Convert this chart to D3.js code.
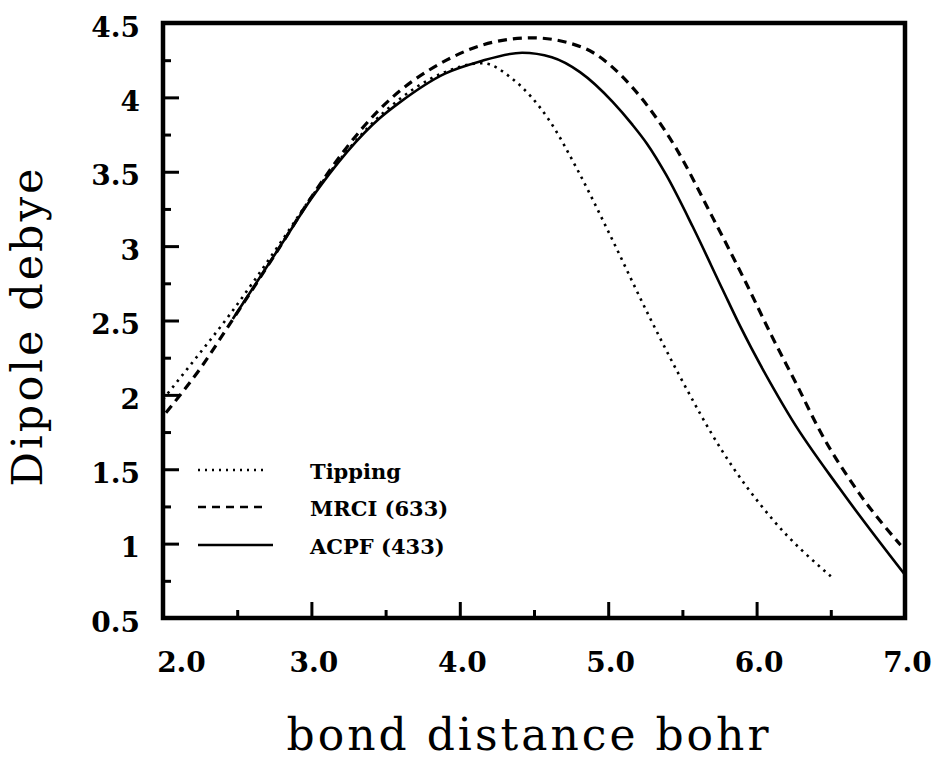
<!DOCTYPE html>
<html>
<head>
<meta charset="utf-8">
<script src="https://cdn.jsdelivr.net/npm/d3@7"></script>
<style>
  html, body { margin: 0; padding: 0; background: #fff; }
  svg { display: block; }
</style>
</head>
<body>
<svg id="chart" width="940" height="764"></svg>
<script>
// ---- data ----
const tippingX = [2.0, 2.16, 2.45, 2.81, 3.0, 3.5, 3.9, 4.15, 4.36, 4.6, 4.8, 5.0, 5.28, 5.48, 5.77, 6.11, 6.5];
const tippingY = [1.97, 2.17, 2.54, 3.05, 3.33, 3.91, 4.17, 4.23, 4.12, 3.85, 3.50, 3.10, 2.52, 2.13, 1.62, 1.16, 0.78];

const mrciX = [2.02, 2.26, 2.42, 2.81, 3.0, 3.46, 3.91, 4.22, 4.49, 4.72, 4.90, 5.16, 5.45, 5.70, 5.93, 6.10, 6.28, 6.42, 6.69, 6.97];
const mrciY = [1.88, 2.19, 2.43, 3.03, 3.33, 3.92, 4.25, 4.37, 4.40, 4.37, 4.30, 4.07, 3.67, 3.20, 2.75, 2.40, 2.05, 1.77, 1.34, 0.99];

const acpfX = [2.47, 2.81, 3.0, 3.46, 3.6, 3.9, 4.13, 4.42, 4.62, 4.81, 5.03, 5.16, 5.26, 5.39, 5.57, 5.77, 5.89, 6.11, 6.24, 6.56, 7.0];
const acpfY = [2.51, 3.03, 3.32, 3.86, 3.97, 4.16, 4.24, 4.30, 4.27, 4.17, 3.97, 3.82, 3.69, 3.48, 3.13, 2.71, 2.46, 2.05, 1.83, 1.37, 0.79];

const seriesNames = ["Tipping", "MRCI (633)", "ACPF (433)"];

const xMajorTicks = [2, 3, 4, 5, 6, 7];
const xMinorTicks = [2.5, 3.5, 4.5, 5.5, 6.5];
const yMajorTicks = [0.5, 1, 1.5, 2, 2.5, 3, 3.5, 4, 4.5];
const yMinorTicks = [0.75, 1.25, 1.75, 2.25, 2.75, 3.25, 3.75, 4.25];

const xTitle = "bond distance bohr";
const yTitle = "Dipole debye";

// ---- layout ----
const svg = d3.select("#chart");
const L = 163, R = 905, T = 23, B = 618;
const x = d3.scaleLinear().domain([2, 7]).range([L, R]);
const y = d3.scaleLinear().domain([0.5, 4.5]).range([B, T]);

const tickFont = "'DejaVu Serif', serif";

// frame
svg.append("rect")
  .attr("x", L).attr("y", T).attr("width", R - L).attr("height", B - T)
  .attr("fill", "none").attr("stroke", "#000").attr("stroke-width", 4.5);

// x axis: major ticks with labels
const gx = svg.append("g").attr("transform", `translate(0,${B})`)
  .call(d3.axisBottom(x).tickValues(xMajorTicks).tickSize(-16).tickPadding(34)
    .tickFormat(d3.format(".1f")));
gx.select(".domain").remove();
gx.selectAll(".tick line").attr("stroke", "#000").attr("stroke-width", 3);
gx.selectAll(".tick text")
  .attr("font-family", tickFont).attr("font-weight", "bold").attr("font-size", 28)
  .attr("fill", "#000")
  .attr("dx", d => d === 2 ? 18 : 2);
// x minor ticks
const gxm = svg.append("g").attr("transform", `translate(0,${B})`)
  .call(d3.axisBottom(x).tickValues(xMinorTicks).tickSize(-8).tickFormat(""));
gxm.select(".domain").remove();
gxm.selectAll(".tick line").attr("stroke", "#000").attr("stroke-width", 3);

// y axis: major ticks with labels
const gy = svg.append("g").attr("transform", `translate(${L},0)`)
  .call(d3.axisLeft(y).tickValues(yMajorTicks).tickSize(-16).tickPadding(23)
    .tickFormat(d3.format("")));
gy.select(".domain").remove();
gy.selectAll(".tick line").attr("stroke", "#000").attr("stroke-width", 3);
gy.selectAll(".tick text")
  .attr("font-family", tickFont).attr("font-weight", "bold").attr("font-size", 28)
  .attr("fill", "#000").attr("dy", "0.47em");
// y minor ticks
const gym = svg.append("g").attr("transform", `translate(${L},0)`)
  .call(d3.axisLeft(y).tickValues(yMinorTicks).tickSize(-8).tickFormat(""));
gym.select(".domain").remove();
gym.selectAll(".tick line").attr("stroke", "#000").attr("stroke-width", 3);

// ---- curves ----
const line = d3.line().x(d => x(d[0])).y(d => y(d[1])).curve(d3.curveMonotoneX);
const styles = [
  { dash: "2.5,5", width: 2.6 },
  { dash: "9,6", width: 3.2 },
  { dash: null, width: 2.6 }
];
const series = [
  d3.zip(tippingX, tippingY),
  d3.zip(mrciX, mrciY),
  d3.zip(acpfX, acpfY)
];
const plot = svg.append("g");
series.forEach((pts, i) => {
  plot.append("path")
    .attr("d", line(pts))
    .attr("fill", "none")
    .attr("stroke", "#000")
    .attr("stroke-width", styles[i].width)
    .attr("stroke-dasharray", styles[i].dash);
});

// ---- legend ----
const legY = [470, 507, 545];
const legLineEnd = [268, 266, 273];
const leg = svg.append("g");
seriesNames.forEach((name, i) => {
  leg.append("line")
    .attr("x1", 198).attr("x2", legLineEnd[i])
    .attr("y1", legY[i]).attr("y2", legY[i])
    .attr("stroke", "#000")
    .attr("stroke-width", i === 1 ? 2.6 : 2.4)
    .attr("stroke-dasharray", i === 0 ? "2,5" : (i === 1 ? "8,6" : null));
  leg.append("text")
    .attr("x", 310).attr("y", legY[i] + 2).attr("dy", "0.32em")
    .attr("font-family", tickFont).attr("font-weight", "bold").attr("font-size", 21)
    .attr("fill", "#000")
    .text(name);
});

// ---- titles ----
svg.append("text")
  .attr("x", 529).attr("y", 750)
  .attr("text-anchor", "middle")
  .attr("font-family", tickFont).attr("font-size", 44)
  .attr("letter-spacing", "3px")
  .attr("fill", "#000")
  .text(xTitle);

svg.append("text")
  .attr("transform", "translate(42,326) rotate(-90)")
  .attr("text-anchor", "middle")
  .attr("font-family", tickFont).attr("font-size", 43)
  .attr("letter-spacing", "3px")
  .attr("fill", "#000")
  .text(yTitle);
</script>
</body>
</html>
